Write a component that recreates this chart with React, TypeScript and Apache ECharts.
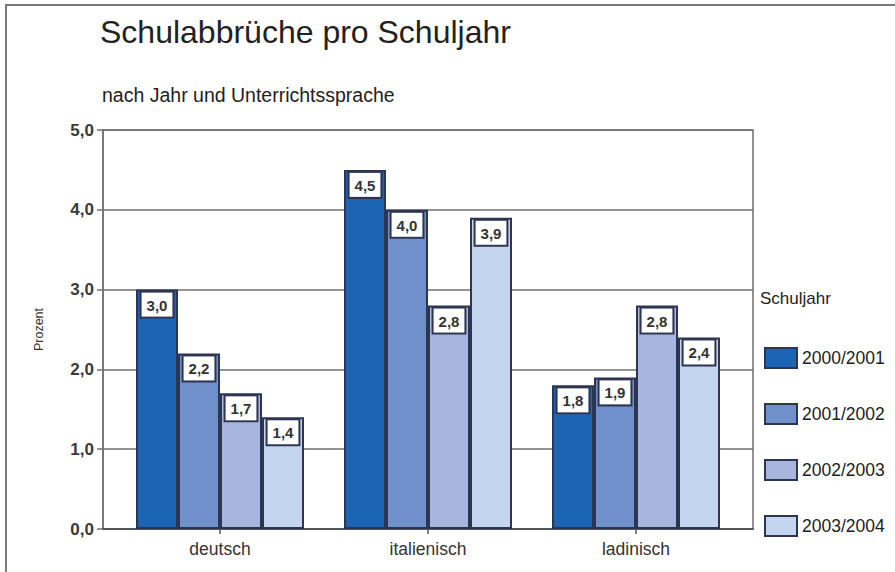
import React, { useEffect, useRef } from "react";
import * as echarts from "echarts";

const categories = ["deutsch", "italienisch", "ladinisch"];
const seriesNames = ["2000/2001", "2001/2002", "2002/2003", "2003/2004"];
const values2000 = [3.0, 4.5, 1.8];
const values2001 = [2.2, 4.0, 1.9];
const values2002 = [1.7, 2.8, 2.8];
const values2003 = [1.4, 3.9, 2.4];
const seriesValues = [values2000, values2001, values2002, values2003];
const colors = ["#1c64b4", "#7090cc", "#a8b5de", "#c4d6ef"];

const SANS = "'Liberation Sans', Arial, sans-serif";
const fmt = (v: number) => v.toFixed(1).replace(".", ",");

export default function App() {
  const ref = useRef<HTMLDivElement>(null);
  useEffect(() => {
    if (!ref.current) return;
    const chart = echarts.init(ref.current, null, { renderer: "svg" });
    const border = "#2d3550";
    chart.setOption({
      animation: false,
      backgroundColor: "#ffffff",
      title: [
        {
          text: "Schulabbrüche pro Schuljahr",
          left: 100,
          top: 16,
          padding: 0,
          textStyle: { fontFamily: SANS, fontSize: 32, fontWeight: "normal", color: "#222" },
        },
        {
          text: "nach Jahr und Unterrichtssprache",
          left: 102,
          top: 85,
          padding: 0,
          textStyle: { fontFamily: SANS, fontSize: 19.5, fontWeight: "normal", color: "#222" },
        },
        {
          text: "Schuljahr",
          left: 760,
          top: 290,
          padding: 0,
          textStyle: { fontFamily: SANS, fontSize: 17, fontWeight: "normal", color: "#222" },
        },
      ],
      legend: {
        orient: "vertical",
        left: 764,
        top: 347,
        padding: 0,
        itemWidth: 32,
        itemHeight: 20,
        itemGap: 34,
        icon: "rect",
        data: seriesNames,
        textStyle: { fontFamily: SANS, fontSize: 17.5, color: "#222" },
      },
      graphic: [
        {
          type: "polyline",
          shape: { points: [[6, 572], [6, 5], [895, 5]] },
          style: { stroke: "#7a7a7a", lineWidth: 2, fill: "none" },
          silent: true,
        },
      ],
      grid: [
        { left: 103, right: 142, top: 130, bottom: 43, show: true, borderColor: "#6f6f6f", borderWidth: 1.5, backgroundColor: "transparent" },
        { left: 116, width: 624, top: 130, bottom: 43 },
      ],
      xAxis: [
        {
          gridIndex: 0,
          type: "category",
          data: categories,
          axisLine: { show: true, lineStyle: { color: "#555", width: 2 } },
          axisTick: { show: false },
          axisLabel: { show: false },
        },
        {
          gridIndex: 1,
          type: "category",
          data: categories,
          axisLine: { show: false },
          axisTick: { show: true, alignWithLabel: true, length: 5, lineStyle: { color: "#555", width: 1.5 } },
          axisLabel: { fontFamily: SANS, fontSize: 17.5, color: "#333", margin: 11 },
        },
      ],
      yAxis: [
        {
          gridIndex: 0,
          type: "value",
          min: 0,
          max: 5,
          interval: 1,
          name: "Prozent",
          nameLocation: "middle",
          nameGap: 58,
          nameRotate: 90,
          nameTextStyle: { fontFamily: SANS, fontSize: 12.5, color: "#333" },
          axisLine: { show: true, lineStyle: { color: "#6f6f6f", width: 1.5 } },
          axisTick: { show: true, length: 6, lineStyle: { color: "#6f6f6f", width: 1.5 } },
          axisLabel: {
            fontFamily: SANS,
            fontSize: 17,
            fontWeight: "bold",
            color: "#3a3a3a",
            margin: 9,
            formatter: (v: number) => fmt(v),
          },
          splitLine: { show: true, lineStyle: { color: "#6f6f6f", width: 1.5 } },
        },
        {
          gridIndex: 1,
          type: "value",
          min: 0,
          max: 5,
          interval: 1,
          show: false,
          splitLine: { show: false },
        },
      ],
      series: seriesNames.map((name, i) => ({
        name,
        type: "bar",
        xAxisIndex: 1,
        yAxisIndex: 1,
        data: seriesValues[i],
        barWidth: 42,
        barGap: "0%",
        itemStyle: { color: colors[i], borderColor: border, borderWidth: 2 },
        label: {
          show: true,
          position: "insideTop",
          distance: 3,
          formatter: (p: any) => fmt(p.value),
          fontFamily: SANS,
          fontSize: 15,
          fontWeight: "bold",
          color: "#333",
          backgroundColor: "#ffffff",
          borderColor: border,
          borderWidth: 2,
          padding: [5, 5, 4, 5],
        },
      })),
    });
    return () => chart.dispose();
  }, []);
  return <div ref={ref} style={{ position: "fixed", left: 0, top: 0, width: 895, height: 572 }} />;
}
